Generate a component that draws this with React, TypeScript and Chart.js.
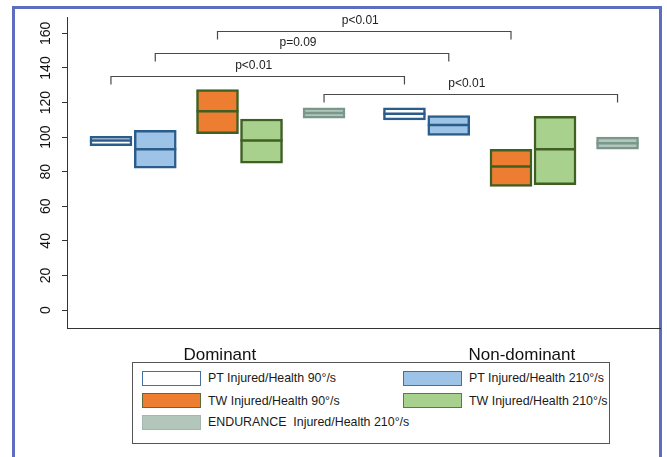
import React, { useEffect, useRef } from 'react';
import { Chart, registerables } from 'chart.js';

Chart.register(...registerables);

// ---- data ----
const categories = ['Dominant', 'Non-dominant'];
const seriesLabels = [
  'PT Injured/Health 90°/s',
  'PT Injured/Health 210°/s',
  'TW Injured/Health 90°/s',
  'TW Injured/Health 210°/s',
  'ENDURANCE  Injured/Health 210°/s',
];
// [low, median, high] for Dominant, Non-dominant
const pt90 = [[95, 98, 100.5], [110, 113.5, 117]];
const pt210 = [[82, 93, 104], [101, 107, 112.5]];
const tw90 = [[102, 115, 127.5], [71.5, 83, 93]];
const tw210 = [[85, 98, 110.5], [72.5, 93, 112]];
const endurance = [[111, 114, 117], [93, 96.5, 100]];
const yTickValues = [0, 20, 40, 60, 80, 100, 120, 140, 160];
// significance brackets: series compared between sides, bracket level, label
const bracketSeries = [2, 1, 0, 4];
const bracketLevels = [161.5, 148.8, 135.3, 124.8];
const bracketLabels = ['p<0.01', 'p=0.09', 'p<0.01', 'p<0.01'];

const allSeries = [pt90, pt210, tw90, tw210, endurance];

// ---- styles ----
const fills = ['#ffffff', '#9dc3e6', '#ed7d31', '#a9d18e', '#b3c6bc'];
const borders = ['#2b5d8c', '#2b5d8c', '#3f5f23', '#3f5f23', '#7a978b'];
const legendBorders = ['#41719c', '#41719c', '#5b6b3a', '#548235', '#a3b8ad'];
const slotOffsets = [-0.363, -0.212, 0, 0.15, 0.363];
const labelNudge = [0.008, 0.037];
const FONT = '"Liberation Sans", Arial, Helvetica, sans-serif';

const zeroPadding = (scale: any) => {
  scale.paddingTop = 0;
  scale.paddingBottom = 0;
  scale.paddingLeft = 0;
  scale.paddingRight = 0;
};

const bracketPlugin = {
  id: 'brackets',
  afterDatasetsDraw(chart: any) {
    const { ctx, scales } = chart;
    const xs = scales.x;
    const ys = scales.y;
    ctx.save();
    bracketSeries.forEach((s, i) => {
      const x1 = xs.getPixelForValue(1 + slotOffsets[s]);
      const x2 = xs.getPixelForValue(2 + slotOffsets[s]);
      const y = Math.round(ys.getPixelForValue(bracketLevels[i])) + 0.5;
      const tick = 8;
      ctx.beginPath();
      ctx.strokeStyle = '#4a4a4a';
      ctx.lineWidth = 1.2;
      ctx.moveTo(x1, y + tick);
      ctx.lineTo(x1, y);
      ctx.lineTo(x2, y);
      ctx.lineTo(x2, y + tick);
      ctx.stroke();
      ctx.fillStyle = '#222222';
      ctx.font = '12px ' + FONT;
      ctx.textAlign = 'center';
      ctx.textBaseline = 'middle';
      ctx.fillText(bracketLabels[i], (x1 + x2) / 2 - 4, y - 10.5);
    });
    ctx.restore();
  },
};

export default function App() {
  const canvasRef = useRef<HTMLCanvasElement | null>(null);

  useEffect(() => {
    if (!canvasRef.current) return;
    Chart.defaults.font.family = FONT;

    const datasets: any[] = [];
    allSeries.forEach((vals, s) => {
      datasets.push({
        type: 'line',
        label: seriesLabels[s] + ' median',
        data: categories.map((_, i) => ({ x: i + 1 + slotOffsets[s], y: vals[i][1] })),
        showLine: false,
        pointStyle: 'line',
        pointRadius: 21,
        pointHoverRadius: 21,
        pointBorderWidth: 2.5,
        pointBorderColor: borders[s],
        pointBackgroundColor: borders[s],
        order: 1,
      });
    });
    allSeries.forEach((vals, s) => {
      datasets.push({
        type: 'bar',
        label: seriesLabels[s],
        data: categories.map((_, i) => ({ x: i + 1 + slotOffsets[s], y: [vals[i][0], vals[i][2]] })),
        backgroundColor: fills[s],
        borderColor: borders[s],
        borderWidth: 2.5,
        borderSkipped: false,
        grouped: false,
        barThickness: 42,
        order: 2,
      });
    });

    const chart = new Chart(canvasRef.current, {
      type: 'bar',
      data: { datasets },
      options: {
        animation: false,
        responsive: false,
        maintainAspectRatio: false,
        events: [],
        layout: { autoPadding: false, padding: { top: 17, right: 7, left: 0, bottom: 0 } },
        plugins: {
          legend: { display: false },
          tooltip: { enabled: false },
        },
        scales: {
          x: {
            type: 'linear',
            min: 0.48723,
            max: 2.5077,
            offset: false,
            afterBuildTicks: (scale: any) => {
              scale.ticks = categories.map((_, i) => ({ value: i + 1 + labelNudge[i] }));
            },
            afterFit: (scale: any) => {
              scale.height = 129;
              zeroPadding(scale);
            },
            grid: { display: false },
            border: { display: true, color: '#333333', width: 1 },
            ticks: {
              autoSkip: false,
              maxRotation: 0,
              minRotation: 0,
              padding: 9,
              color: '#111111',
              font: { size: 17, family: FONT },
              callback: (_v: any, idx: number) => categories[idx],
            },
          },
          y: {
            type: 'linear',
            min: -10.4,
            max: 169.5,
            afterBuildTicks: (scale: any) => {
              scale.ticks = yTickValues.map((v) => ({ value: v }));
            },
            afterFit: (scale: any) => {
              scale.width = 67;
              zeroPadding(scale);
            },
            grid: {
              display: true,
              drawOnChartArea: false,
              drawTicks: true,
              tickLength: 5,
              color: '#333333',
              lineWidth: 1,
            },
            border: { display: true, color: '#333333', width: 1 },
            ticks: {
              minRotation: 90,
              maxRotation: 90,
              crossAlign: 'center',
              padding: 4,
              color: '#111111',
              font: { size: 14, family: FONT },
              callback: (v: any) => String(v),
            },
          },
        },
      } as any,
      plugins: [bracketPlugin],
    });
    return () => chart.destroy();
  }, []);

  const legendCols = [10, 271];
  const legendRowCenters = [16, 38.5, 60];

  return (
    <div
      style={{
        position: 'fixed',
        left: 0,
        top: 0,
        width: 667,
        height: 457,
        background: '#ffffff',
        overflow: 'hidden',
        fontFamily: FONT,
      }}
    >
      <div
        style={{
          position: 'absolute',
          left: 12,
          top: 6,
          width: 650,
          height: 480,
          border: '3px solid #5d6ec0',
          boxSizing: 'border-box',
        }}
      />
      <canvas
        ref={canvasRef}
        width={667}
        height={457}
        style={{ position: 'absolute', left: 0, top: 0, display: 'block' }}
      />
      <div
        style={{
          position: 'absolute',
          left: 132,
          top: 362,
          width: 478,
          height: 82,
          border: '1px solid #555555',
          boxSizing: 'border-box',
          background: '#ffffff',
        }}
      >
        {seriesLabels.map((label, s) => {
          const col = legendCols[s % 2];
          const cy = legendRowCenters[Math.floor(s / 2)];
          return (
            <React.Fragment key={label}>
              <div
                style={{
                  position: 'absolute',
                  left: col - 1,
                  top: cy - 7.5 - 1,
                  width: 59,
                  height: 15,
                  background: fills[s],
                  border: '1.5px solid ' + legendBorders[s],
                  boxSizing: 'border-box',
                }}
              />
              <div
                style={{
                  position: 'absolute',
                  left: col + 65,
                  top: cy - 9 - 1,
                  height: 18,
                  lineHeight: '18px',
                  fontSize: 12.4,
                  color: '#1a1a1a',
                  whiteSpace: 'pre',
                }}
              >
                {label}
              </div>
            </React.Fragment>
          );
        })}
      </div>
    </div>
  );
}
